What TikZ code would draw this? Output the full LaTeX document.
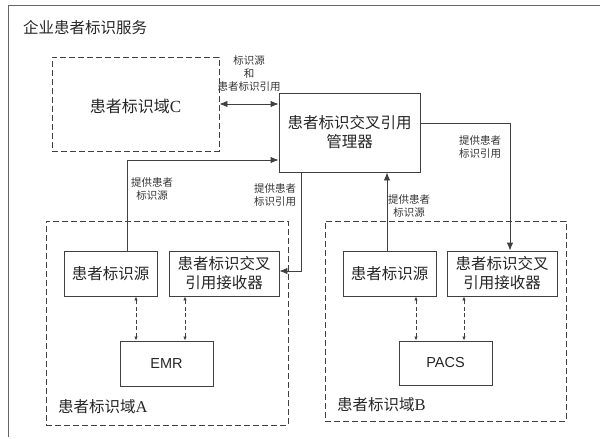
\documentclass[tikz,border=0pt]{standalone}
\usepackage{fontspec}
\setmainfont{Liberation Serif}
\newfontfamily\cjk{Noto Sans CJK SC}
\newfontfamily\arialf{Liberation Sans}
\usetikzlibrary{arrows.meta,calc}
\begin{document}
\begin{tikzpicture}[x=1pt,y=-1pt,
  ln/.style={draw=black!75,line width=0.9pt},
  bigarrow/.style={ln,-{Latex[length=8pt,width=6.5pt]}},
  bigdbl/.style={ln,{Latex[length=8pt,width=6.5pt]}-{Latex[length=8pt,width=6.5pt]}},
  dasharr/.style={draw=black!75,line width=0.8pt,dash pattern=on 4pt off 2.5pt,{Latex[length=4pt,width=3.5pt]}-{Latex[length=4pt,width=3.5pt]}},
  box/.style={ln,fill=white,inner sep=0pt,align=center,text=black!85,font=\cjk\fontsize{15.5}{19}\selectfont},
  dom/.style={draw=black!75,line width=0.9pt,dash pattern=on 6pt off 3pt,inner sep=0pt},
  lbl/.style={text=black!80,align=center,inner sep=0pt,font=\cjk\fontsize{10.5}{13}\selectfont},
  title/.style={text=black!85,inner sep=0pt,anchor=west,font=\cjk\fontsize{15.5}{19}\selectfont}]
\useasboundingbox (0,0) rectangle (600,439);
% outer frame
\draw[draw=black!60,line width=1pt] (8,437) -- (8,5) -- (600,5);
\node[title] (ttl) at (23,28) {企业患者标识服务};
% domains
\node[dom,minimum width=167pt,minimum height=94pt] (domC) at (135.5,104) {};
\node[text=black!85,inner sep=0pt] (domCt) at (135.5,106) {{\cjk\fontsize{16}{19}\selectfont 患者标识域}{\fontsize{17}{19}\selectfont C}};
\node[dom,minimum width=242pt,minimum height=204pt] (domA) at (167,323) {};
\node[dom,minimum width=241pt,minimum height=200pt] (domB) at (445.5,321) {};
\node[title] (domAt) at (58,407) {患者标识域{\rmfamily\fontsize{16.5}{19}\selectfont A}};
\node[title] (domBt) at (337,405) {患者标识域{\rmfamily\fontsize{16.5}{19}\selectfont B}};
% manager
\node[box,minimum width=141pt,minimum height=79pt] (mgr) at (349.5,132.5) {患者标识交叉引用\\管理器};
% domain A
\node[box,minimum width=93pt,minimum height=45pt] (srcA) at (110.5,273.5) {患者标识源};
\node[box,minimum width=110pt,minimum height=45pt] (recA) at (224,273.5) {患者标识交叉\\引用接收器};
\node[box,minimum width=93pt,minimum height=45pt,font=\arialf\fontsize{14.5}{17}\selectfont] (emr) at (166.5,363.5) {EMR};
% domain B
\node[box,minimum width=93pt,minimum height=45pt] (srcB) at (389.5,273.5) {患者标识源};
\node[box,minimum width=110pt,minimum height=45pt] (recB) at (502,273.5) {患者标识交叉\\引用接收器};
\node[box,minimum width=93pt,minimum height=44pt,font=\arialf\fontsize{14.5}{17}\selectfont] (pacs) at (445.5,363) {PACS};
% helper coordinates
\coordinate (sA) at ($(srcA.north)+(16.5,0)$);
\coordinate (mIn) at ($(mgr.west)+(0,27.5)$);
\coordinate (mOutA) at ($(mgr.south)+(-48.5,0)$);
\coordinate (rAin) at ($(recA.east)+(0,-2.5)$);
\coordinate (mOutB) at ($(mgr.east)+(0,-9.5)$);
\coordinate (rBin) at ($(recB.north)+(8,0)$);
\coordinate (sB) at ($(srcB.north)+(-2.5,0)$);
\coordinate (e1) at ($(emr.north)+(-30.5,0)$);
\coordinate (e2) at ($(emr.north)+(18.5,0)$);
\coordinate (p1) at ($(pacs.north)+(-29.5,0)$);
\coordinate (p2) at ($(pacs.north)+(18.5,0)$);
% connectors
\draw[bigdbl] (domC.east) -- (domC.east -| mgr.west);
\draw[bigarrow] (sA) |- (mIn);
\draw[bigarrow] (mOutA) |- (rAin);
\draw[bigarrow] (mOutB) -| (rBin);
\draw[bigarrow] (sB) -- (sB |- mgr.south);
\draw[dasharr] (e1) -- (e1 |- srcA.south);
\draw[dasharr] (e2) -- (e2 |- recA.south);
\draw[dasharr] (p1) -- (p1 |- srcB.south);
\draw[dasharr] (p2) -- (p2 |- recB.south);
% labels
\node[lbl] (l1) at (249,73.5) {标识源\\和\\患者标识引用};
\node[lbl] (l2) at (152,189.5) {提供患者\\标识源};
\node[lbl] (l3) at (275,195.5) {提供患者\\标识引用};
\node[lbl] (l4) at (480,147.5) {提供患者\\标识引用};
\node[lbl] (l5) at (409,206.5) {提供患者\\标识源};
\end{tikzpicture}
\end{document}
